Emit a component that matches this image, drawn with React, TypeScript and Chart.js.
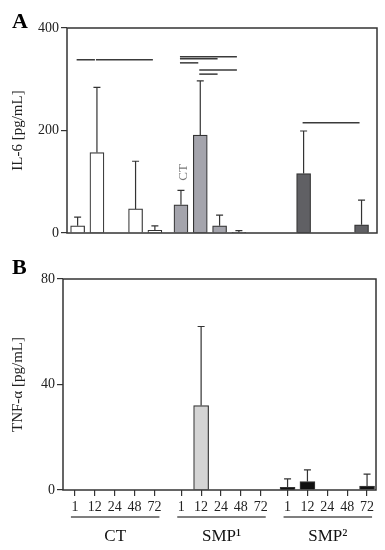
import { useEffect, useRef } from 'react';
import { Chart, registerables } from 'chart.js';
Chart.register(...registerables);

const timeLabels = ['1', '12', '24', '48', '72'];
const groupLabels = ['CT', 'SMP¹', 'SMP²'];
const GROUP_GAP = 0.35;

// IL-6 [pg/mL]: means and SD (upper error)
const il6CT = [14, 157, null, 47, 5];
const il6SMP1 = [55, 191, 14, 1.5, null];
const il6SMP2 = [null, 116, null, null, 16];
const il6CTsd = [17, 127, null, 93, 9];
const il6SMP1sd = [28, 106, 21, 3, null];
const il6SMP2sd = [null, 83, null, null, 48];

// TNF-α [pg/mL]
const tnfCT = [null, null, null, null, null];
const tnfSMP1 = [null, 32, null, null, null];
const tnfSMP2 = [1, 3.2, null, null, 1.5];
const tnfCTsd = [null, null, null, null, null];
const tnfSMP1sd = [null, 30, null, null, null];
const tnfSMP2sd = [3.2, 4.4, null, null, 4.5];

const il6Ticks = [0, 200, 400];
const tnfTicks = [0, 40, 80];

// significance lines: [group, fromIdx, toIdx, level]
const il6Sig = [
  [0, 0, 1, 338], [0, 1, 4, 338],
  [1, 0, 3, 344], [1, 0, 2, 340], [1, 0, 1, 332], [1, 1, 3, 318], [1, 1, 2, 310],
  [2, 1, 4, 215],
];
// annotations: [group, idx, text]
const il6Notes: [number, number, string][] = [[1, 0, 'CT']];

const FONT = "'Liberation Serif', 'Times New Roman', serif";
const INK = '#333';

const xPos = (g: number, i: number) => g * (timeLabels.length + GROUP_GAP) + i;

function buildPoints(groups: (number | null)[][]) {
  const pts: { x: number; y: number | null }[] = [];
  groups.forEach((arr, g) => arr.forEach((v, i) => pts.push({ x: xPos(g, i), y: v })));
  return pts;
}
function flat(groups: (number | null)[][]) {
  const out: (number | null)[] = [];
  groups.forEach((a) => a.forEach((v) => out.push(v)));
  return out;
}
function colorsFor(groups: (number | null)[][], cols: string[]) {
  const out: string[] = [];
  groups.forEach((a, g) => a.forEach(() => out.push(cols[g])));
  return out;
}

function makePlugin(opts: {
  sd: (number | null)[];
  sig?: number[][];
  notes?: [number, number, string][];
  underline?: boolean;
}) {
  return {
    id: 'extras',
    afterDatasetsDraw(chart: any) {
      const ctx = chart.ctx;
      const meta = chart.getDatasetMeta(0);
      const ys = chart.scales.y;
      const xs = chart.scales.x;
      const data = chart.data.datasets[0].data;
      ctx.save();
      ctx.strokeStyle = INK;
      ctx.lineWidth = 1.2;
      // error bars
      meta.data.forEach((el: any, i: number) => {
        const p = data[i];
        const s = opts.sd[i];
        if (p.y == null || s == null) return;
        const top = ys.getPixelForValue(p.y + s);
        ctx.beginPath();
        ctx.moveTo(el.x, el.y);
        ctx.lineTo(el.x, top);
        ctx.moveTo(el.x - 3.5, top);
        ctx.lineTo(el.x + 3.5, top);
        ctx.stroke();
      });
      // significance lines
      if (opts.sig) {
        ctx.strokeStyle = '#3a3a3a';
        ctx.lineWidth = 1.5;
        opts.sig.forEach(([g, a, b, lvl]) => {
          const y = ys.getPixelForValue(lvl);
          ctx.beginPath();
          ctx.moveTo(xs.getPixelForValue(xPos(g, a)) - 1, y);
          ctx.lineTo(xs.getPixelForValue(xPos(g, b)) - 2, y);
          ctx.stroke();
        });
      }
      if (opts.notes) {
        ctx.fillStyle = '#777';
        ctx.font = `13px ${FONT}`;
        ctx.textAlign = 'center';
        ctx.textBaseline = 'middle';
        opts.notes.forEach(([g, i, t]) => {
          const idx = g * timeLabels.length + i;
          const p = data[idx];
          const top = ys.getPixelForValue(p.y + (opts.sd[idx] || 0));
          const x = xs.getPixelForValue(xPos(g, i)) + 3;
          ctx.save();
          ctx.translate(x, top - 18);
          ctx.rotate(-Math.PI / 2);
          ctx.fillText(t, 0, 0);
          ctx.restore();
        });
      }
      // frame
      const ca = chart.chartArea;
      ctx.strokeStyle = INK;
      ctx.lineWidth = 1.5;
      ctx.strokeRect(ca.left, ca.top, ca.right - ca.left, ca.bottom - ca.top);
      // group underlines & labels
      if (opts.underline) {
        groupLabels.forEach((lab, g) => {
          const x0 = xs.getPixelForValue(xPos(g, 0)) - 4;
          const x1 = xs.getPixelForValue(xPos(g, timeLabels.length - 1)) + 5;
          const y = ca.bottom + 27;
          ctx.strokeStyle = '#555';
          ctx.lineWidth = 1.6;
          ctx.beginPath();
          ctx.moveTo(x0, y);
          ctx.lineTo(x1, y);
          ctx.stroke();
          ctx.fillStyle = '#111';
          ctx.font = `17px ${FONT}`;
          ctx.textAlign = 'center';
          ctx.textBaseline = 'middle';
          ctx.fillText(lab, (x0 + x1) / 2, ca.bottom + 47);
        });
      }
      ctx.restore();
    },
  };
}

function letterPlugin(letter: string, baseline: number) {
  return {
    id: 'letter',
    afterDraw(chart: any) {
      const ctx = chart.ctx;
      ctx.save();
      ctx.fillStyle = '#000';
      ctx.font = `bold 22px ${FONT}`;
      ctx.textAlign = 'left';
      ctx.textBaseline = 'alphabetic';
      ctx.fillText(letter, 12, baseline);
      ctx.restore();
    },
  };
}

function yAxis(ticks: number[], title: string, width: number) {
  return {
    min: ticks[0],
    max: ticks[ticks.length - 1],
    afterBuildTicks: (s: any) => {
      s.ticks = ticks.map((v) => ({ value: v }));
    },
    afterFit: (s: any) => {
      s.width = width;
    },
    border: { display: false },
    grid: { drawOnChartArea: false, drawTicks: true, tickLength: 6, color: INK, lineWidth: 1.2 },
    ticks: { color: '#222', font: { family: FONT, size: 14 }, padding: 2 },
    title: {
      display: true,
      text: title,
      color: '#222',
      font: { family: FONT, size: 15 },
      padding: { top: 9, bottom: 0 },
    },
  };
}

export default function App() {
  const refA = useRef<HTMLCanvasElement>(null);
  const refB = useRef<HTMLCanvasElement>(null);

  useEffect(() => {
    const aGroups = [il6CT, il6SMP1, il6SMP2];
    const bGroups = [tnfCT, tnfSMP1, tnfSMP2];
    const tickPositions: number[] = [];
    groupLabels.forEach((_, g) => timeLabels.forEach((__, i) => tickPositions.push(xPos(g, i))));

    const chartA = new Chart(refA.current!, {
      type: 'bar',
      data: {
        datasets: [
          {
            data: buildPoints(aGroups) as any,
            backgroundColor: colorsFor(aGroups, ['#ffffff', '#a4a4ac', '#606064']),
            borderColor: INK,
            borderWidth: 1.2,
            barThickness: 14,
          },
        ],
      },
      options: {
        animation: false,
        responsive: false,
        devicePixelRatio: 1,
        layout: { padding: { top: 28, right: 8, left: 0, bottom: 0 } },
        plugins: { legend: { display: false }, tooltip: { enabled: false } },
        scales: {
          x: {
            type: 'linear',
            offset: false,
            min: -0.55,
            max: 15.5,
            afterFit: (s: any) => {
              s.height = 17;
            },
            border: { display: false },
            grid: { display: false, offset: false },
            ticks: { display: false },
          },
          y: yAxis(il6Ticks, 'IL-6 [pg/mL]', 67) as any,
        },
      },
      plugins: [
        makePlugin({ sd: flat([il6CTsd, il6SMP1sd, il6SMP2sd]), sig: il6Sig, notes: il6Notes }),
        letterPlugin('A', 28),
      ],
    });

    const chartB = new Chart(refB.current!, {
      type: 'bar',
      data: {
        datasets: [
          {
            data: buildPoints(bGroups) as any,
            backgroundColor: colorsFor(bGroups, ['#ffffff', '#d4d4d4', '#111111']),
            borderColor: INK,
            borderWidth: 1.2,
            barThickness: 15,
          },
        ],
      },
      options: {
        animation: false,
        responsive: false,
        devicePixelRatio: 1,
        layout: { padding: { top: 29, right: 9, left: 0, bottom: 0 } },
        plugins: { legend: { display: false }, tooltip: { enabled: false } },
        scales: {
          x: {
            type: 'linear',
            offset: false,
            min: -0.6,
            max: 15.15,
            afterBuildTicks: (s: any) => {
              s.ticks = tickPositions.map((v) => ({ value: v }));
            },
            afterFit: (s: any) => {
              s.height = 60;
            },
            border: { display: false },
            grid: { drawOnChartArea: false, drawTicks: true, tickLength: 6, color: INK, lineWidth: 1.2, offset: false },
            ticks: {
              autoSkip: false,
              maxRotation: 0,
              color: '#222',
              font: { family: FONT, size: 14 },
              padding: 3,
              callback: (_v: any, i: number) => timeLabels[i % timeLabels.length],
            },
          },
          y: yAxis(tnfTicks, 'TNF-α [pg/mL]', 63) as any,
        },
      },
      plugins: [
        makePlugin({ sd: flat([tnfCTsd, tnfSMP1sd, tnfSMP2sd]), underline: true }),
        letterPlugin('B', 24),
      ],
    });

    return () => {
      chartA.destroy();
      chartB.destroy();
    };
  }, []);

  return (
    <div style={{ position: 'fixed', left: 0, top: 0, width: 385, height: 550, background: '#fff' }}>
      <canvas ref={refA} width={385} height={250} style={{ position: 'absolute', left: 0, top: 0 }} />
      <canvas ref={refB} width={385} height={300} style={{ position: 'absolute', left: 0, top: 250 }} />
    </div>
  );
}
